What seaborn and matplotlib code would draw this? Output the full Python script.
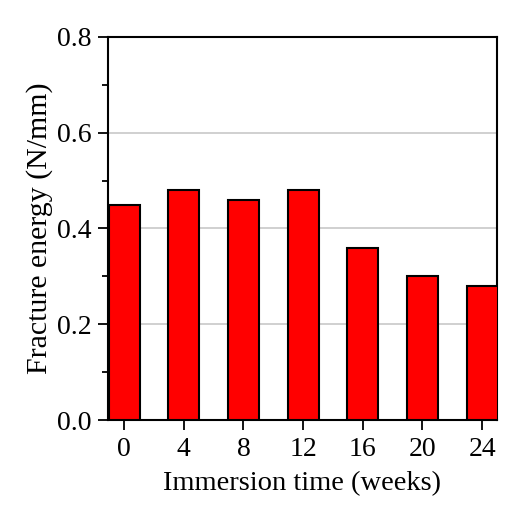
import matplotlib
matplotlib.use("Agg")
import matplotlib.pyplot as plt
import seaborn as sns
import pandas as pd
from matplotlib.ticker import MultipleLocator

weeks = ["0", "4", "8", "12", "16", "20", "24"]
energy = [0.45, 0.48, 0.46, 0.48, 0.36, 0.30, 0.28]

df = pd.DataFrame({"weeks": weeks, "energy": energy})

sns.set_theme(style="white")
plt.rcParams["font.family"] = ["Liberation Serif", "DejaVu Serif"]
plt.rcParams["text.color"] = "black"
plt.rcParams["axes.labelcolor"] = "black"
plt.rcParams["xtick.color"] = "black"
plt.rcParams["ytick.color"] = "black"

fig = plt.figure(figsize=(5.10, 5.19), dpi=100)
ax = fig.add_axes([108/510, 1 - 420/519, (497-108)/510, (420-37)/519])

sns.barplot(data=df, x="weeks", y="energy", order=weeks, color="#ff0000",
            saturation=1, width=0.52, edgecolor="black", linewidth=1.5, ax=ax, zorder=3)

ax.set_ylim(0, 0.8)
ax.set_xlim(-0.27, 6.25)
ax.yaxis.set_major_locator(MultipleLocator(0.2))
ax.yaxis.set_minor_locator(MultipleLocator(0.1))
ax.set_yticklabels([f"{v:.1f}" for v in ax.get_yticks()])
ax.grid(axis="y", which="major", color="#c8c8c8", linewidth=1.2, zorder=0)
ax.set_axisbelow(True)

for s in ax.spines.values():
    s.set_color("black")
    s.set_linewidth(1.5)

ax.tick_params(axis="both", which="major", direction="out", length=7, width=1.3,
               color="black", labelcolor="black", labelsize=20, pad=5, left=True, bottom=True)
ax.tick_params(axis="y", which="minor", direction="out", length=4, width=1.3,
               color="black", left=True)
ax.tick_params(axis="x", which="minor", bottom=False)

ax.set_xlabel("Immersion time (weeks)", fontsize=20.5, labelpad=7, color="black")
ax.set_ylabel("Fracture energy (N/mm)", fontsize=21.5, labelpad=3, color="black")

fig.savefig("out.png", dpi=100, facecolor="white")
